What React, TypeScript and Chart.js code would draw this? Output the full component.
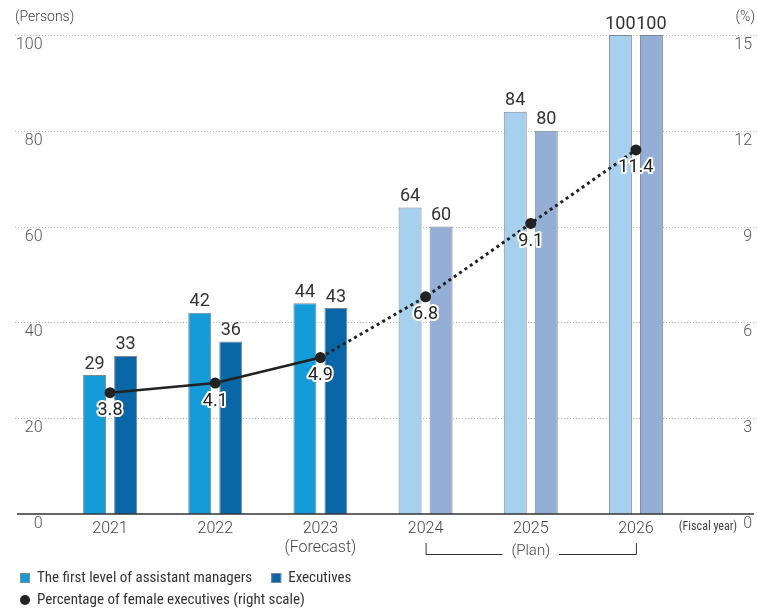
import React, { useEffect, useRef } from 'react';
import { Chart, registerables } from 'chart.js';
Chart.register(...registerables);

const xLabels = [['2021'], ['2022'], ['2023', '(Forecast)'], ['2024'], ['2025'], ['2026']];
const assistantManagers = [29, 42, 44, 64, 84, 100];
const executives = [33, 36, 43, 60, 80, 100];
const femaleExecPct = [3.8, 4.1, 4.9, 6.8, 9.1, 11.4];
const leftTicks = [0, 20, 40, 60, 80, 100];
const rightTicks = [0, 3, 6, 9, 12, 15];
const actualCount = 3;

const C_AM = '#159bd8';
const C_EX = '#0967a7';
const C_AM_PLAN = '#a7cfee';
const C_EX_PLAN = '#95aed6';
const BORDER = '#7d8894';
const NARROW = '"Liberation Sans Narrow", "Roboto Condensed", "DejaVu Sans Condensed", Roboto, sans-serif';
const MAIN = 'Roboto, "Noto Sans", sans-serif';

const amColors = assistantManagers.map((_, i) => (i < actualCount ? C_AM : C_AM_PLAN));
const exColors = executives.map((_, i) => (i < actualCount ? C_EX : C_EX_PLAN));

const decor = {
  id: 'decor',
  beforeDatasetsDraw(chart: any) {
    const ctx = chart.ctx;
    const y = chart.scales.y;
    ctx.save();
    ctx.strokeStyle = '#b8b8b8';
    ctx.lineWidth = 1;
    ctx.setLineDash([1, 2]);
    for (const v of leftTicks) {
      if (v === 0) continue;
      const py = Math.round(y.getPixelForValue(v)) + 0.5;
      ctx.beginPath();
      ctx.moveTo(15, py);
      ctx.lineTo(757, py);
      ctx.stroke();
    }
    ctx.restore();
  },
  afterDatasetsDraw(chart: any) {
    const ctx = chart.ctx;
    const y = chart.scales.y;
    ctx.save();
    const py0 = y.getPixelForValue(0);
    ctx.strokeStyle = '#333';
    ctx.lineWidth = 1.5;
    ctx.beginPath();
    ctx.moveTo(17, py0);
    ctx.lineTo(754, py0);
    ctx.stroke();

    ctx.font = `18px ${MAIN}`;
    ctx.fillStyle = '#333';
    ctx.textAlign = 'center';
    ctx.textBaseline = 'bottom';
    [0, 1].forEach((di) => {
      const meta = chart.getDatasetMeta(di);
      const vals = chart.data.datasets[di].data;
      meta.data.forEach((el: any, i: number) => {
        ctx.fillText(String(vals[i]), el.x, el.y - 2);
      });
    });

    const lm = chart.getDatasetMeta(2);
    ctx.textBaseline = 'middle';
    ctx.lineJoin = 'round';
    lm.data.forEach((el: any, i: number) => {
      const t = femaleExecPct[i].toFixed(1);
      ctx.strokeStyle = '#fff';
      ctx.lineWidth = 4;
      ctx.strokeText(t, el.x, el.y + 18);
      ctx.fillStyle = '#222';
      ctx.fillText(t, el.x, el.y + 18);
    });
    ctx.restore();
  },
  afterDraw(chart: any) {
    const ctx = chart.ctx;
    const x = chart.scales.x;
    ctx.save();
    ctx.fillStyle = '#444';
    ctx.textBaseline = 'middle';
    ctx.font = `300 14px ${MAIN}`;
    ctx.textAlign = 'left';
    ctx.fillText('(Persons)', 15, 17);
    ctx.textAlign = 'right';
    ctx.fillText('(%)', 755, 17);

    ctx.font = `12px ${NARROW}`;
    ctx.textAlign = 'center';
    ctx.fillText('(Fiscal year)', 708, 527);

    const xa = x.getPixelForValue(3);
    const xb = x.getPixelForValue(5);
    const xm = (xa + xb) / 2;
    ctx.font = `300 15px ${MAIN}`;
    ctx.fillText('(Plan)', xm, 551);
    const half = ctx.measureText('(Plan)').width / 2 + 9;
    ctx.strokeStyle = '#333';
    ctx.lineWidth = 1;
    ctx.beginPath();
    ctx.moveTo(xa + 0.5, 543);
    ctx.lineTo(xa + 0.5, 554.5);
    ctx.lineTo(xm - half, 554.5);
    ctx.moveTo(xm + half, 554.5);
    ctx.lineTo(xb + 0.5, 554.5);
    ctx.lineTo(xb + 0.5, 543);
    ctx.stroke();

    ctx.font = `15px ${NARROW}`;
    ctx.textAlign = 'left';
    ctx.fillStyle = C_AM;
    ctx.strokeStyle = BORDER;
    ctx.fillRect(20, 573, 10, 10);
    ctx.strokeRect(20.5, 573.5, 9, 9);
    ctx.fillStyle = '#333';
    const t1 = 'The first level of assistant managers';
    ctx.fillText(t1, 37, 578);
    const sx = 37 + ctx.measureText(t1).width + 19;
    ctx.fillStyle = C_EX;
    ctx.fillRect(sx, 573, 10, 10);
    ctx.strokeRect(sx + 0.5, 573.5, 9, 9);
    ctx.fillStyle = '#333';
    ctx.fillText('Executives', sx + 17, 578);
    ctx.fillStyle = '#222';
    ctx.beginPath();
    ctx.arc(25, 600, 5, 0, Math.PI * 2);
    ctx.fill();
    ctx.fillStyle = '#333';
    ctx.fillText('Percentage of female executives (right scale)', 37, 600);
    ctx.restore();
  },
};

export default function App() {
  const ref = useRef<HTMLCanvasElement>(null);
  useEffect(() => {
    if (!ref.current) return;
    const chart = new Chart(ref.current, {
      type: 'bar',
      data: {
        labels: xLabels,
        datasets: [
          {
            type: 'bar',
            label: 'The first level of assistant managers',
            data: assistantManagers,
            backgroundColor: amColors,
            borderColor: BORDER,
            borderWidth: 1,
            categoryPercentage: 0.59,
            barPercentage: 0.74,
            yAxisID: 'y',
            order: 1,
          },
          {
            type: 'bar',
            label: 'Executives',
            data: executives,
            backgroundColor: exColors,
            borderColor: BORDER,
            borderWidth: 1,
            categoryPercentage: 0.59,
            barPercentage: 0.74,
            yAxisID: 'y',
            order: 1,
          },
          {
            type: 'line',
            label: 'Percentage of female executives (right scale)',
            data: femaleExecPct,
            borderColor: '#222',
            backgroundColor: '#222',
            borderWidth: 2.5,
            pointRadius: 5.5,
            pointBorderWidth: 0,
            pointBackgroundColor: '#222',
            yAxisID: 'y2',
            order: 0,
            segment: {
              borderDash: (c: any) => (c.p0DataIndex >= actualCount - 1 ? [3, 3.5] : undefined),
              borderWidth: (c: any) => (c.p0DataIndex >= actualCount - 1 ? 3 : 2.5),
            },
          } as any,
        ],
      },
      options: {
        responsive: false,
        animation: false,
        layout: { padding: { top: 35, right: 5, left: 0, bottom: 0 } },
        plugins: { legend: { display: false }, tooltip: { enabled: false } },
        scales: {
          x: {
            grid: { display: false, drawTicks: false },
            border: { display: false },
            ticks: { font: { family: MAIN, size: 16, weight: '300' }, color: '#444', padding: 5, maxRotation: 0, autoSkip: false },
            afterFit: (s: any) => { s.height = 96; },
          },
          y: {
            position: 'left',
            min: 0,
            max: 100,
            grid: { display: false, drawTicks: false },
            border: { display: false },
            ticks: { stepSize: 20, font: { family: MAIN, size: 16, weight: '300' }, color: '#555', padding: 15, labelOffset: 10 },
            afterFit: (s: any) => { s.width = 57.5; },
          },
          y2: {
            position: 'right',
            min: 0,
            max: 15,
            grid: { display: false, drawTicks: false },
            border: { display: false },
            ticks: { stepSize: 3, font: { family: MAIN, size: 16, weight: '300' }, color: '#555', crossAlign: 'far', labelOffset: 10,
              callback: (v: any) => (rightTicks.includes(v) ? String(v) : '') },
            afterFit: (s: any) => { s.width = 63.5; },
          },
        },
      } as any,
      plugins: [decor],
    });
    return () => chart.destroy();
  }, []);
  return (
    <div style={{ position: 'fixed', left: 0, top: 0, width: 757, height: 610, background: '#fff' }}>
      <canvas ref={ref} width={757} height={610} />
    </div>
  );
}
